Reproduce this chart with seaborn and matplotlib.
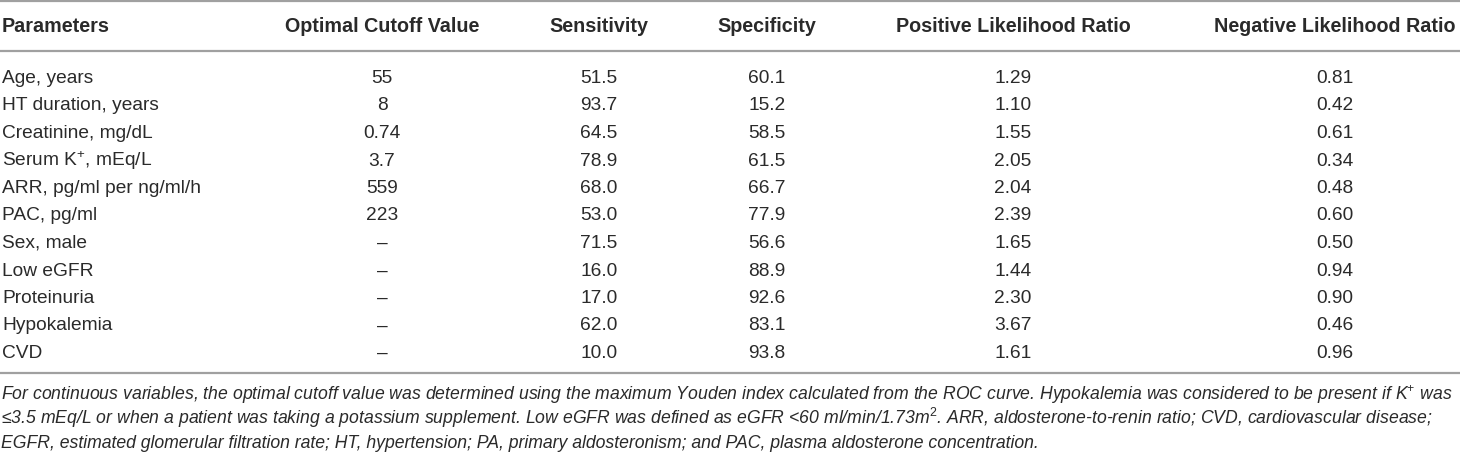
import matplotlib
matplotlib.use("Agg")
import matplotlib.pyplot as plt
from matplotlib import font_manager
import seaborn as sns

# table content
columns = ["Parameters", "Optimal Cutoff Value", "Sensitivity", "Specificity",
           "Positive Likelihood Ratio", "Negative Likelihood Ratio"]
parameters = ["Age, years", "HT duration, years", "Creatinine, mg/dL",
              "Serum K$^{+}$, mEq/L", "ARR, pg/ml per ng/ml/h", "PAC, pg/ml",
              "Sex, male", "Low eGFR", "Proteinuria", "Hypokalemia", "CVD"]
cutoffs = ["55", "8", "0.74", "3.7", "559", "223", "–", "–", "–", "–", "–"]
sensitivity = [51.5, 93.7, 64.5, 78.9, 68.0, 53.0, 71.5, 16.0, 17.0, 62.0, 10.0]
specificity = [60.1, 15.2, 58.5, 61.5, 66.7, 77.9, 56.6, 88.9, 92.6, 83.1, 93.8]
pos_lr = [1.29, 1.10, 1.55, 2.05, 2.04, 2.39, 1.65, 1.44, 2.30, 3.67, 1.61]
neg_lr = [0.81, 0.42, 0.61, 0.34, 0.48, 0.60, 0.50, 0.94, 0.90, 0.46, 0.96]
footnote = [
    "For continuous variables, the optimal cutoff value was determined using the maximum Youden "
    "index calculated from the ROC curve. Hypokalemia was considered to be present if K$^{+}$ was",
    "≤3.5 mEq/L or when a patient was taking a potassium supplement. Low eGFR was defined as "
    "eGFR <60 ml/min/1.73m$^{2}$. ARR, aldosterone-to-renin ratio; CVD, cardiovascular disease;",
    "EGFR, estimated glomerular filtration rate; HT, hypertension; PA, primary aldosteronism; "
    "and PAC, plasma aldosterone concentration.",
]

sns.set_theme(style="white")
main_font = "Liberation Sans"
installed = {f.name for f in font_manager.fontManager.ttflist}
note_font = "Liberation Sans Narrow" if "Liberation Sans Narrow" in installed else main_font
plt.rcParams["font.family"] = [main_font, "DejaVu Sans"]
plt.rcParams["mathtext.fontset"] = "custom"
plt.rcParams["mathtext.rm"] = main_font
plt.rcParams["mathtext.it"] = main_font + ":italic"

W, H = 1460, 457
fig = plt.figure(figsize=(W / 100, H / 100), dpi=100)
ax = fig.add_axes([0, 0, 1, 1])
ax.set_xlim(0, W)
ax.set_ylim(H, 0)
ax.axis("off")

col_x = [2, 382, 599, 767, 1013, 1335]
text_color = "#2a2a2a"
rule_color = "#a0a0a0"
size = 13.8

# header
for i, name in enumerate(columns):
    ax.text(col_x[i], 32, name, ha="left" if i == 0 else "center", va="baseline",
            fontsize=14.2, fontweight="bold", color=text_color)

# rows
cells = list(zip(parameters, cutoffs,
                 [f"{v:.1f}" for v in sensitivity], [f"{v:.1f}" for v in specificity],
                 [f"{v:.2f}" for v in pos_lr], [f"{v:.2f}" for v in neg_lr]))
for r, row in enumerate(cells):
    y = 83 + r * 27.5
    for i, val in enumerate(row):
        ax.text(col_x[i], y, val, ha="left" if i == 0 else "center", va="baseline",
                fontsize=size, color=text_color)

# rules
for y in (1.2, 51, 373):
    ax.plot([0, W], [y, y], color=rule_color, lw=1.6, solid_capstyle="butt")

# footnote, scaled so the first line fills the width
note_size = 12.5
texts = []
for k, line in enumerate(footnote):
    t = ax.text(1, 400 + k * 24, line, ha="left", va="baseline", fontsize=note_size,
                style="italic", color=text_color, family=[note_font, "DejaVu Sans"])
    texts.append(t)
fig.canvas.draw()
renderer = fig.canvas.get_renderer()
w = texts[0].get_window_extent(renderer).width
scale = 1456 / w
for t in texts:
    t.set_fontsize(note_size * scale)

fig.savefig("out.png", dpi=100, facecolor="white")
